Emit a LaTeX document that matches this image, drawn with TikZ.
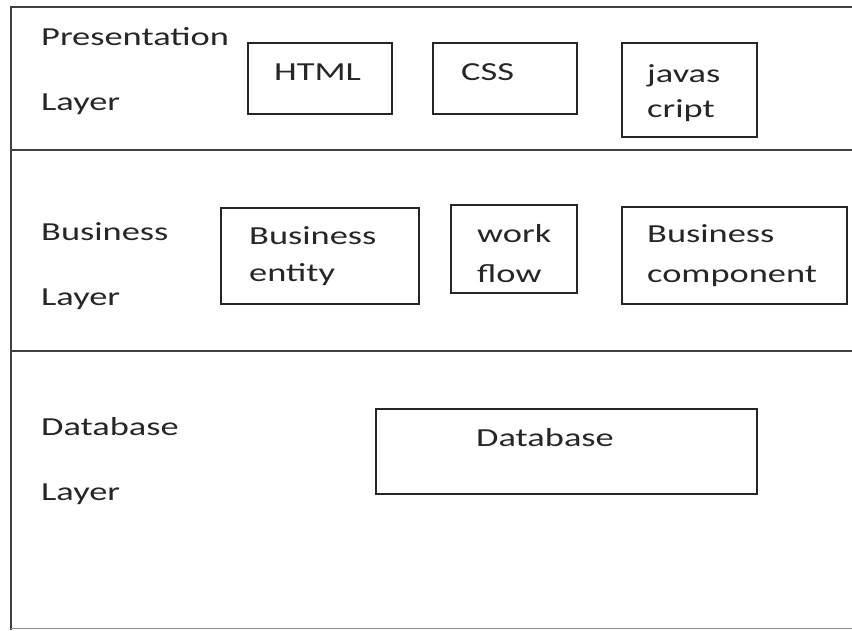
\documentclass[tikz,border=0pt]{standalone}
\usepackage{fontspec}
\setmainfont{Carlito}[FakeStretch=1.40]
\begin{document}
\begin{tikzpicture}[x=1pt,y=-1pt,
  frame/.style={line width=1.8pt, draw=black!75},
  box/.style={draw=black!85, line width=1.5pt, anchor=north west, inner sep=0pt},
  txt/.style={anchor=base west, inner sep=0pt, text=black!85, font=\fontsize{26}{30}\selectfont}]
\useasboundingbox (0,0) rectangle (852,630);
% frame
\draw[frame] (852,7) -- (11,7) -- (11,630);
\draw[line width=1pt, draw=black!45] (11,628) -- (852,628);
\draw[frame] (11,150) -- (852,150);
\draw[frame] (11,351) -- (852,351);
% layer labels
\node[txt] (pl1) at (41,45) {Presentation};
\node[txt] (pl2) at (41,110) {Layer};
\node[txt] (bl1) at (41,240) {Business};
\node[txt] (bl2) at (41,305) {Layer};
\node[txt] (dl1) at (41,435) {Database};
\node[txt] (dl2) at (41,500) {Layer};
% presentation boxes
\node[box, minimum width=144, minimum height=71] (html) at (247,42) {};
\node[txt] at (274,80) {HTML};
\node[box, minimum width=144, minimum height=71] (css) at (432,42) {};
\node[txt] at (461,80) {CSS};
\node[box, minimum width=135, minimum height=94] (js) at (621,42) {};
\node[txt] at (647,82) {javas};
\node[txt] at (647,117) {cript};
% business boxes
\node[box, minimum width=198, minimum height=96] (be) at (220,207) {};
\node[txt] at (249,244) {Business};
\node[txt] at (249,281) {entity};
\node[box, minimum width=126, minimum height=88] (wf) at (450,204) {};
\node[txt] at (477,242) {work};
\node[txt] at (477,282) {flow};
\node[box, minimum width=225, minimum height=97] (bc) at (621,206) {};
\node[txt] at (647,242) {Business};
\node[txt] at (647,282) {component};
% database box
\node[box, minimum width=381, minimum height=85] (db) at (375,408) {};
\node[txt] at (476,446) {Database};
\end{tikzpicture}
\end{document}
